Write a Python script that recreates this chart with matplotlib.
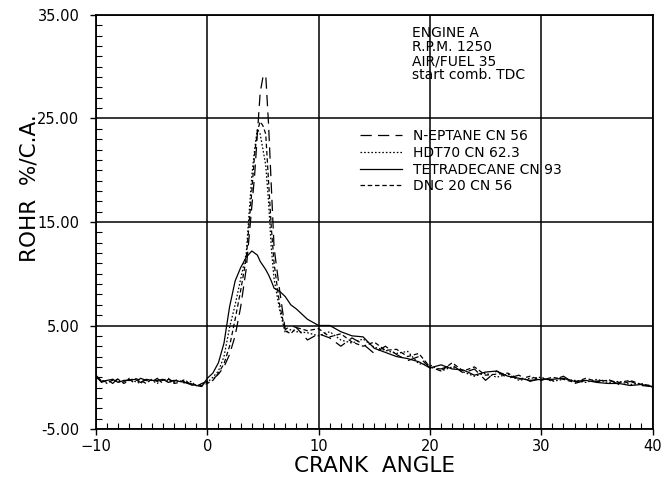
import matplotlib
matplotlib.use("Agg")
import matplotlib.pyplot as plt
from matplotlib.ticker import MultipleLocator, FixedLocator

# ---------------- data ----------------
crank_angle = [-10, -9.5, -9, -8.5, -8, -7.5, -7, -6.5, -6, -5.5, -5, -4.5, -4, -3.5, -3,
               -2.5, -2, -1.5, -1, -0.5, 0,
               0.5, 1, 1.5, 2, 2.5, 3, 3.5, 4, 4.25, 4.5, 4.75, 5, 5.25, 5.5, 5.75, 6,
               6.5, 7, 7.5, 8,
               9, 10, 11, 12, 13, 14, 15, 16, 17, 18, 19, 20, 21, 22, 23, 24, 25, 26,
               27, 28, 29, 30, 31, 32, 33, 34, 35, 36, 37, 38, 39, 40]

n_heptane = [0.1, -0.5, -0.2, -0.6, -0.1, -0.4, -0.2, -0.6, -0.1, -0.3, -0.5, -0.1, -0.6, -0.2,
             -0.4, -0.1, -0.5, -0.7, -0.9, -0.6, -0.4,
             -0.2, 0.3, 1.0, 2.2, 4.0, 6.8, 10.5, 16.5, 19.5, 23.5, 27.5, 29.0, 29.2, 24.5,
             18.5, 12.5, 8.4, 4.6, 5.0, 4.8,
             3.6, 4.2, 3.8, 3.0, 3.8, 3.2, 2.3, 3.0, 2.2, 1.6, 2.0, 0.9, 0.8, 1.2, 0.4, 0.8,
             -0.3, 0.6, -0.1, 0.2, -0.4, -0.1, -0.3, 0.1, -0.6, -0.3, -0.4, -0.2, -0.7, -0.4,
             -0.8, -0.9]

hdt70 = [-0.1, -0.3, -0.6, -0.2, -0.4, -0.5, -0.1, -0.4, -0.6, -0.2, -0.3, -0.6, -0.2, -0.4,
         -0.5, -0.3, -0.6, -0.4, -0.8, -0.7, -0.5,
         0.0, 0.6, 2.0, 4.8, 7.0, 9.5, 12.0, 19.5, 22.0, 24.0, 23.5, 22.0, 20.5, 17.0,
         12.5, 9.5, 6.5, 4.3, 4.6, 4.4,
         4.3, 4.0, 4.4, 3.6, 3.3, 3.7, 2.9, 2.6, 2.3, 2.5, 1.3, 1.2, 0.6, 1.0, 0.5, 0.1,
         0.4, 0.0, 0.3, -0.3, -0.1, 0.0, -0.4, -0.2, -0.3, -0.5, -0.2, -0.5, -0.4, -0.7,
         -0.6, -1.0]

tetradecane = [0.2, -0.4, -0.3, -0.2, -0.5, -0.3, -0.3, -0.2, -0.5, -0.2, -0.3, -0.3, -0.2,
               -0.5, -0.3, -0.4, -0.5, -0.6, -0.8, -0.9, -0.1,
               0.4, 1.4, 3.3, 6.8, 9.3, 10.6, 11.6, 12.2, 12.0, 11.8, 11.2, 10.8, 10.4, 9.9,
               9.3, 8.6, 8.3, 7.8, 7.0, 6.6,
               5.6, 5.0, 5.0, 4.4, 4.0, 3.9, 2.8, 2.4, 2.0, 1.8, 1.5, 0.9, 1.2, 0.8, 0.7, 0.2,
               0.5, 0.6, 0.1, -0.1, -0.3, -0.2, -0.2, -0.1, -0.4, -0.3, -0.5, -0.6, -0.6,
               -0.8, -0.7, -0.9]

dnc20 = [0.0, -0.3, -0.5, -0.3, -0.2, -0.6, -0.3, -0.1, -0.3, -0.6, -0.2, -0.4, -0.3, -0.1,
         -0.6, -0.5, -0.2, -0.8, -0.7, -0.8, -0.6,
         -0.3, 0.4, 1.3, 3.0, 5.6, 8.4, 11.5, 18.0, 21.5, 23.8, 24.7, 24.3, 23.5, 19.0,
         14.5, 11.0, 7.0, 4.5, 4.2, 4.8,
         4.5, 4.7, 3.9, 4.2, 3.4, 3.0, 3.4, 2.6, 2.7, 2.0, 2.3, 1.0, 0.6, 1.4, 0.6, 1.0,
         0.2, 0.3, 0.4, -0.2, 0.1, -0.3, 0.0, -0.2, -0.5, -0.1, -0.4, -0.3, -0.5, -0.3,
         -0.7, -0.8]

labels = ["N-EPTANE CN 56", "HDT70 CN 62.3", "TETRADECANE CN 93", "DNC 20 CN 56"]
x_ticks = [-10, 0, 10, 20, 30, 40]
y_ticks = [-5, 5, 15, 25, 35]
y_tick_labels = ["-5.00", "5.00", "15.00", "25.00", "35.00"]
note_lines = ["ENGINE A", "R.P.M. 1250", "AIR/FUEL 35", "start comb. TDC"]

# ---------------- figure ----------------
plt.rcParams['font.family'] = ['DejaVu Sans']
W, H = 662, 480
fig = plt.figure(figsize=(W / 100, H / 100), dpi=100)
ax = fig.add_axes([96 / W, 1 - 429 / H, (652.5 - 96) / W, (429 - 15) / H])

lw = 0.9
ax.plot(crank_angle, n_heptane, color='black', lw=lw, dashes=(9, 5), label=labels[0])
ax.plot(crank_angle, hdt70, color='black', lw=lw, dashes=(1.3, 1.6), label=labels[1])
ax.plot(crank_angle, tetradecane, color='black', lw=lw, linestyle='-', label=labels[2])
ax.plot(crank_angle, dnc20, color='black', lw=lw, dashes=(3.6, 2.2), label=labels[3])

ax.set_xlim(-10, 40)
ax.set_ylim(-5, 35)
ax.xaxis.set_major_locator(FixedLocator(x_ticks))
ax.yaxis.set_major_locator(FixedLocator(y_ticks))
ax.set_yticklabels(y_tick_labels)
ax.xaxis.set_minor_locator(MultipleLocator(1))
ax.yaxis.set_minor_locator(MultipleLocator(1))
ax.tick_params(which='major', direction='out', length=4, width=1.0, labelsize=10.5,
               color='black', labelcolor='black')
ax.tick_params(axis='x', which='major', pad=3)
ax.tick_params(axis='y', which='major', pad=8)
ax.tick_params(which='minor', direction='in', length=4, width=0.8, color='black')
ax.grid(True, which='major', color='black', lw=1.1)
for s in ax.spines.values():
    s.set_linewidth(1.3)
    s.set_color('black')

ax.set_xlabel("CRANK  ANGLE", fontsize=15.5, labelpad=2)
fig.text(30 / W, 1 - 188 / H, "ROHR  %/C.A.", rotation=90, fontsize=15.5,
         ha='center', va='center')

ax.text(18.4, 33.9, "\n".join(note_lines), fontsize=10, va='top', ha='left',
        linespacing=1.0)

leg = ax.legend(loc='upper left', bbox_to_anchor=(360 / W, 1 - 129 / H),
                bbox_transform=fig.transFigure, frameon=False, fontsize=10,
                handlelength=3.0, handletextpad=0.8, labelspacing=0.2,
                borderpad=0, borderaxespad=0)

fig.savefig("out.png", dpi=100)
